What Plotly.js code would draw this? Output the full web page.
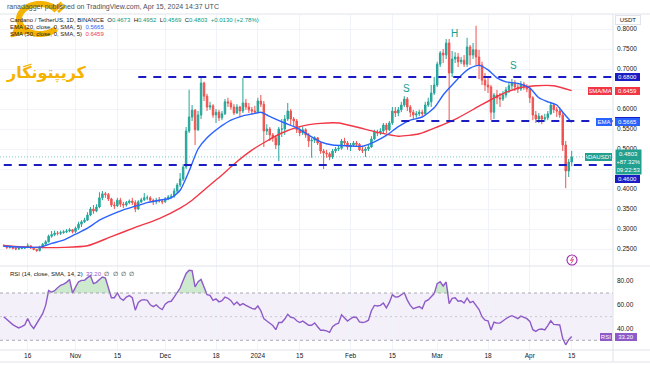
<!DOCTYPE html>
<html><head><meta charset="utf-8">
<script src="https://cdn.plot.ly/plotly-3.0.1.min.js"></script>
<style>html,body{margin:0;padding:0;background:#fff;}#chart{width:650px;height:365px;}</style>
</head><body><div id="chart"></div>
<script>
// ---- data (ADA/USDT daily) ----
const startDate = '2023-10-08';
const opens = [
0.259,.258,.254,.255,.252,.250,.251,.252,.254,.258,
.253,.249,.246,.254,.262,.268,.282,.286,.290,.289,
.291,.293,.295,.298,.294,.302,.312,.318,.322,.335,
.350,.345,.355,.378,.388,.386,.375,.360,.358,.372,
.362,.360,.366,.370,.366,.350,.368,.373,.378,.378,
.372,.368,.372,.370,.368,.375,.380,.382,.395,.410,
.425,.455,.545,.580,.597,.548,.585,.665,.632,.605,
.608,.585,.592,.578,.588,.618,.615,.605,.590,.605,
.595,.615,.605,.598,.595,.593,.620,.612,.545,.550,
.535,.528,.510,.550,.550,.575,.595,.575,.570,.548,
.540,.548,.535,.520,.522,.528,.515,.495,.490,.488,
.480,.495,.500,.502,.520,.515,.505,.510,.515,.512,
.498,.496,.500,.505,.525,.542,.540,.545,.560,.548,
.565,.595,.590,.598,.610,.625,.605,.592,.585,.588,
.592,.588,.610,.618,.640,.660,.712,.740,.735,.765,
.690,.725,.730,.718,.722,.712,.755,.735,.748,.730,
.710,.672,.660,.655,.592,.635,.628,.625,.635,.648,
.658,.665,.655,.650,.662,.655,.650,.628,.585,.575,
.582,.575,.578,.588,.610,.598,.595,.585,.510,.445,
.4673];
const highs = [
.262,.260,.258,.256,.254,.254,.254,.256,.264,.259,
.255,.250,.258,.265,.272,.286,.295,.296,.295,.296,
.297,.300,.302,.300,.306,.318,.322,.328,.342,.355,
.360,.362,.392,.395,.393,.390,.378,.368,.378,.378,
.368,.370,.374,.378,.372,.372,.378,.390,.384,.382,
.376,.378,.380,.375,.380,.385,.388,.402,.415,.440,
.462,.555,.648,.610,.600,.595,.678,.668,.638,.618,
.612,.600,.598,.595,.625,.628,.622,.612,.612,.608,
.678,.625,.615,.605,.608,.628,.635,.620,.562,.555,
.540,.532,.555,.575,.585,.615,.600,.580,.575,.555,
.556,.552,.540,.528,.532,.530,.518,.500,.498,.492,
.500,.505,.510,.525,.528,.520,.515,.520,.520,.515,
.505,.505,.510,.532,.548,.548,.552,.565,.565,.570,
.605,.605,.605,.618,.632,.630,.610,.598,.595,.598,
.598,.618,.628,.660,.680,.718,.745,.750,.775,.775,
.745,.742,.740,.730,.735,.778,.760,.765,.808,.748,
.718,.690,.680,.660,.640,.648,.640,.645,.655,.668,
.675,.672,.665,.670,.668,.662,.655,.632,.595,.590,
.585,.588,.595,.618,.615,.605,.605,.592,.520,.475,
.4952];
const lows = [
.255,.250,.251,.249,.247,.248,.250,.250,.252,.250,
.247,.243,.244,.252,.260,.266,.278,.282,.284,.285,
.288,.290,.292,.289,.290,.298,.305,.315,.320,.332,
.338,.342,.352,.372,.378,.370,.355,.350,.355,.355,
.352,.356,.362,.360,.342,.348,.365,.370,.372,.368,
.360,.362,.366,.362,.366,.372,.376,.378,.390,.405,
.420,.450,.540,.570,.510,.545,.575,.620,.595,.598,
.578,.565,.570,.572,.585,.605,.598,.585,.588,.580,
.590,.598,.590,.585,.588,.590,.605,.505,.535,.520,
.518,.500,.470,.530,.535,.570,.560,.555,.540,.532,
.535,.528,.505,.478,.515,.510,.488,.450,.478,.472,
.475,.490,.495,.498,.508,.498,.495,.505,.505,.495,
.490,.480,.495,.503,.522,.532,.535,.538,.540,.545,
.560,.580,.582,.592,.605,.595,.580,.575,.578,.582,
.582,.585,.605,.605,.635,.655,.705,.715,.725,.572,
.680,.715,.705,.712,.705,.705,.710,.725,.710,.675,
.660,.645,.640,.572,.575,.612,.605,.620,.628,.640,
.650,.645,.640,.645,.648,.642,.615,.572,.565,.565,
.562,.568,.572,.585,.590,.580,.578,.495,.402,.430,
.4569];
const closes = [
.258,.254,.255,.252,.250,.251,.252,.254,.258,.253,
.249,.246,.254,.262,.268,.282,.286,.290,.289,.291,
.293,.295,.298,.294,.302,.312,.318,.322,.335,.350,
.345,.355,.378,.388,.386,.375,.360,.358,.372,.362,
.360,.366,.370,.366,.350,.368,.373,.378,.378,.372,
.368,.372,.370,.368,.375,.380,.382,.395,.410,.425,
.455,.545,.580,.597,.548,.585,.665,.632,.605,.608,
.585,.592,.578,.588,.618,.615,.605,.590,.605,.595,
.615,.605,.598,.595,.593,.620,.612,.545,.550,.535,
.528,.510,.550,.550,.575,.595,.575,.570,.548,.540,
.548,.535,.520,.522,.528,.515,.495,.490,.488,.480,
.495,.500,.502,.520,.515,.505,.510,.515,.512,.498,
.496,.500,.505,.525,.542,.540,.545,.560,.548,.565,
.595,.590,.598,.610,.625,.605,.592,.585,.588,.592,
.588,.610,.618,.640,.660,.712,.740,.735,.765,.690,
.725,.730,.718,.722,.712,.755,.735,.748,.730,.710,
.672,.660,.655,.592,.635,.628,.625,.635,.648,.658,
.665,.655,.650,.662,.655,.650,.628,.585,.575,.582,
.575,.578,.588,.610,.598,.595,.585,.510,.445,.4673,
.4803];
const rsiValues = [
50,47.5,45,43.3,41.8,40.5,41.5,43,48.5,43,
40,44.5,48,52.5,59.5,72,70.8,72,74.5,76.5,
77.5,79,81.5,70,75,79.5,80.7,80.7,83,84.5,
77.9,79,81.5,83.5,82.7,74,66,66,70,65.5,
63.8,66.5,67.8,66,55.5,62,64,64.4,63.8,60,
58.5,60,57.5,56,60.5,62.5,63,66.5,70.5,74.2,
80.5,86.5,89.2,89,75.1,79.5,81.5,75,68.6,68,
63.8,65,62.5,63.5,66.5,65.5,63.5,60,62.3,59.6,
61,59.5,58,57,56.3,59,55,48.3,46.3,44.5,
42.5,39,45,45,48,52,49.5,49,46.5,45,
46.3,44.5,42.7,42.7,44.7,41.5,38.5,38.5,38,36.7,
41.5,43.5,44.5,51.5,49,46.3,48.2,49.7,49.3,45.5,
45,45.6,47,55,59.5,59,59.5,61.5,57.5,62,
68.6,66.5,66.8,68.5,70.2,64,59.5,56.8,57.5,58.5,
56.8,63,64.2,66.5,69.5,77.9,79.5,75.9,79.3,61,
65.5,66,63,63.5,61.5,65.8,61.8,63,59,56,
50,47,46.5,38.7,45.3,44.5,44.5,46,48.2,49.8,
50.8,49.5,48.3,50.4,49,48.3,46,39,37.5,39.2,
39.5,38.8,42.5,46.5,43.5,43.2,43,31.5,26.2,30.5,
33.2];
const emaDates = ['2023-10-08','2023-10-13','2023-10-18','2023-10-21','2023-10-24','2023-10-28','2023-11-01','2023-11-05','2023-11-09','2023-11-13','2023-11-17','2023-11-21','2023-11-25','2023-11-29','2023-12-03','2023-12-06','2023-12-09','2023-12-12','2023-12-15','2023-12-19','2023-12-23','2023-12-27','2023-12-31','2024-01-02','2024-01-04','2024-01-06','2024-01-10','2024-01-14','2024-01-18','2024-01-22','2024-01-26','2024-01-31','2024-02-05','2024-02-09','2024-02-13','2024-02-17','2024-02-21','2024-02-25','2024-02-29','2024-03-03','2024-03-06','2024-03-09','2024-03-12','2024-03-15','2024-03-18','2024-03-21','2024-03-24','2024-03-28','2024-04-01','2024-04-04','2024-04-07','2024-04-10','2024-04-12','2024-04-15'];
const emaValues = [0.257,0.255,0.254,0.256,0.264,0.272,0.287,0.302,0.322,0.336,0.348,0.357,0.366,0.372,0.378,0.397,0.445,0.500,0.528,0.553,0.572,0.583,0.589,0.592,0.585,0.578,0.565,0.553,0.535,0.518,0.510,0.508,0.507,0.518,0.534,0.556,0.572,0.580,0.603,0.635,0.660,0.684,0.702,0.709,0.698,0.678,0.668,0.664,0.652,0.628,0.618,0.610,0.592,0.5665];
const smaDates = ['2023-10-08','2023-10-18','2023-10-28','2023-11-05','2023-11-13','2023-11-21','2023-11-29','2023-12-06','2023-12-10','2023-12-16','2023-12-20','2023-12-24','2023-12-30','2024-01-04','2024-01-09','2024-01-15','2024-01-22','2024-01-28','2024-02-03','2024-02-10','2024-02-17','2024-02-24','2024-03-01','2024-03-08','2024-03-15','2024-03-22','2024-03-28','2024-04-03','2024-04-09','2024-04-15'];
const smaValues = [0.258,0.254,0.254,0.258,0.281,0.304,0.326,0.352,0.372,0.410,0.435,0.462,0.497,0.520,0.540,0.556,0.564,0.565,0.555,0.542,0.532,0.538,0.555,0.578,0.607,0.635,0.652,0.658,0.658,0.6459];
const tickDates = ['2023-10-16','2023-11-01','2023-11-15','2023-12-01','2023-12-18','2024-01-01','2024-01-15','2024-02-01','2024-02-15','2024-03-01','2024-03-18','2024-04-01','2024-04-15'];
const tickLabels = ['16','Nov','15','Dec','18','2024','15','Feb','15','Mar','18','Apr','15'];
const priceTicks = [0.25,0.30,0.35,0.40,0.45,0.50,0.55,0.60,0.65,0.70,0.75,0.80];
const priceTickLabels = ['0.2500','0.3000','0.3500','0.4000','','0.5000','0.5500','0.6000','','0.7000','0.7500','0.8000'];
const rsiTicks = [40,60,80];
const rsiTickLabels = ['40.00','60.00','80.00'];
const levels = [0.68,0.57,0.46];
const levelStarts = ['2023-11-22','2024-02-18','2023-10-08'];
const patternLabels = ['S','H','S'];
const patternDates = ['2024-02-19 14:00','2024-03-06 22:00','2024-03-26 10:00'];
const patternPrices = [0.6525,0.79,0.71];
const lastPrice = 0.4803, lastEma = 0.5665, lastSma = 0.6459, lastRsi = 33.20;

// ---- helpers ----
const dates = closes.map((_, i) => new Date(Date.UTC(2023, 9, 8 + i)).toISOString().slice(0, 10));
const PW = 613, PB = 350, PH = 336;
const px = x => x / PW, py = y => (PB - y) / PH;
function pathFrom(pts, close) {
  return pts.map((p, i) => (i ? 'L' : 'M') + px(p[0]).toFixed(5) + ',' + py(p[1]).toFixed(5)).join(' ') + (close ? ' Z' : '');
}
const xRange = ['2023-10-06 17:34', '2024-04-28 19:40'];
const UP = '#26a69a', DN = '#ef5350', NAVY = '#1c1cc4', EMAC = '#2962ff', SMAC = '#f23645', RSIC = '#8e5ac8', GOLD = '#f5b301';

const rsiTop = rsiValues.map(v => Math.max(v, 70));
const traces = [
  {type:'candlestick', x:dates, open:opens, high:highs, low:lows, close:closes, xaxis:'x', yaxis:'y',
   increasing:{line:{color:UP, width:1}, fillcolor:UP}, decreasing:{line:{color:DN, width:1}, fillcolor:DN},
   whiskerwidth:0, hoverinfo:'skip'},
  {type:'scatter', mode:'lines', x:smaDates, y:smaValues, line:{color:SMAC, width:1.4, shape:'spline', smoothing:0.6}, yaxis:'y', hoverinfo:'skip'},
  {type:'scatter', mode:'lines', x:emaDates, y:emaValues, line:{color:EMAC, width:1.4, shape:'spline', smoothing:0.6}, yaxis:'y', hoverinfo:'skip'},
  {type:'scatter', mode:'lines', x:dates, y:dates.map(() => 70), line:{width:0, color:'rgba(0,0,0,0)'}, yaxis:'y2', hoverinfo:'skip'},
  {type:'scatter', mode:'lines', x:dates, y:rsiTop, line:{width:0, color:'rgba(0,0,0,0)'}, fill:'tonexty', fillcolor:'rgba(76,175,80,0.28)', yaxis:'y2', hoverinfo:'skip'},
  {type:'scatter', mode:'lines', x:dates, y:rsiValues, line:{color:RSIC, width:1.4}, yaxis:'y2', hoverinfo:'skip'}
];

const shapes = [];
// RSI band and guides
shapes.push({type:'rect', xref:'paper', x0:0, x1:1, yref:'y2', y0:30, y1:70, fillcolor:'rgba(126,87,194,0.09)', line:{width:0}, layer:'below'});
shapes.push({type:'line', xref:'paper', x0:0, x1:1, yref:'y2', y0:70, y1:70, line:{color:'#9598a1', width:0.8, dash:'3px,3px'}});
shapes.push({type:'line', xref:'paper', x0:0, x1:1, yref:'y2', y0:30, y1:30, line:{color:'#9598a1', width:0.8, dash:'3px,3px'}});
shapes.push({type:'line', xref:'paper', x0:0, x1:1, yref:'y2', y0:50, y1:50, line:{color:'rgba(149,152,161,0.55)', width:0.8, dash:'2px,3px'}});
// current price dotted line
shapes.push({type:'line', xref:'paper', x0:0, x1:1, yref:'y', y0:lastPrice, y1:lastPrice, line:{color:'rgba(38,166,154,0.7)', width:0.8, dash:'1px,2px'}});
// support / resistance levels
levels.forEach((lv, i) => shapes.push({type:'line', xref:'x', x0:levelStarts[i], x1:xRange[1], yref:'y', y0:lv, y1:lv, line:{color:NAVY, width:2, dash:'8px,7px'}, layer:'above'}));
// frame lines
const FR = '#e0e3eb';
shapes.push({type:'line', xref:'paper', yref:'paper', x0:0, x1:650/PW, y0:1, y1:1, line:{color:FR, width:1}});
shapes.push({type:'line', xref:'paper', yref:'paper', x0:0, x1:650/PW, y0:0.25, y1:0.25, line:{color:FR, width:1}});
shapes.push({type:'line', xref:'paper', yref:'paper', x0:0, x1:650/PW, y0:0, y1:0, line:{color:FR, width:1}});
shapes.push({type:'line', xref:'paper', yref:'paper', x0:0, x1:650/PW, y0:py(362), y1:py(362), line:{color:FR, width:1}});
shapes.push({type:'line', xref:'paper', yref:'paper', x0:1, x1:1, y0:py(14), y1:py(362), line:{color:FR, width:1}});
// small purple icon
shapes.push({type:'circle', xref:'paper', yref:'paper', x0:px(567), x1:px(577), y0:py(265), y1:py(255), line:{color:'#9c27b0', width:1.1}, fillcolor:'#fff'});
shapes.push({type:'path', xref:'paper', yref:'paper', path:pathFrom([[573,256.5],[570.5,260.5],[573.5,259.5],[571,263.5]]), line:{color:'#e0457b', width:1}});
// logo: gold C ring, arrow and chain link
const arcPts = [];
for (let a = 40; a <= 320; a += 8) { const r = a * Math.PI / 180; arcPts.push([40 + 21 * Math.cos(r), 19 - 15 * Math.sin(r)]); }
shapes.push({type:'path', xref:'paper', yref:'paper', path:pathFrom(arcPts), line:{color:GOLD, width:6}, layer:'above'});
shapes.push({type:'path', xref:'paper', yref:'paper', path:pathFrom([[11,37],[27,33],[16,25]], true), fillcolor:GOLD, line:{color:GOLD, width:1}, layer:'above'});
shapes.push({type:'path', xref:'paper', yref:'paper', path:pathFrom([[53,11],[62,3]]), line:{color:GOLD, width:4}, layer:'above'});
shapes.push({type:'path', xref:'paper', yref:'paper', path:pathFrom([[58,12],[65,6]]), line:{color:GOLD, width:2.5}, layer:'above'});

const ann = [];
const F = 'Liberation Sans, Arial, sans-serif';
function txt(t, x, y, size, color, anchor) {
  ann.push({text:t, xref:'paper', yref:'paper', x:px(x), y:py(y), xanchor:anchor || 'left', yanchor:'middle', showarrow:false, font:{family:F, size:size, color:color}});
}
txt('ranadagger published on TradingView.com, Apr 15, 2024 14:37 UTC', 5, 7, 7, '#4a4e59');
const G = '#089981';
txt('Cardano / TetherUS, 1D, BINANCE  O<span style="color:' + G + '">0.4673</span>  H<span style="color:' + G + '">0.4952</span>  L<span style="color:' + G + '">0.4569</span>  C<span style="color:' + G + '">0.4803</span>  <span style="color:' + G + '">+0.0130 (+2.78%)</span>', 8, 20, 6, '#131722');
txt('EMA (20, close, 0, SMA, 5)  <span style="color:' + EMAC + '">' + lastEma.toFixed(4) + '</span>', 8, 27, 6, '#131722');
txt('SMA (50, close, 0, SMA, 5)  <span style="color:' + SMAC + '">' + lastSma.toFixed(4) + '</span>', 8, 34, 6, '#131722');
txt('RSI (14, close, SMA, 14, 2)  <span style="color:' + RSIC + '">' + lastRsi.toFixed(2) + '</span>  ∅  ∅  ∅  ∅', 8, 274, 6, '#131722');
// Persian watermark
ann.push({text:'کریپتونگار', xref:'paper', yref:'paper', x:px(4), y:py(73), xanchor:'left', yanchor:'middle', showarrow:false, font:{family:'DejaVu Sans', size:16, color:GOLD, weight:'bold'}});
// pattern labels
patternLabels.forEach((t, i) => ann.push({text:t, xref:'x', yref:'y', x:patternDates[i], y:patternPrices[i], showarrow:false, xanchor:'center', yanchor:'middle', font:{family:F, size:10, color:'#14a08b'}}));
// right-axis boxes
function box(t, yref, y, bg, color, anchor, xpos, width, border) {
  ann.push({text:t, xref:'paper', x:xpos, xanchor:anchor, yref:yref, y:y, yanchor:'middle', showarrow:false, bgcolor:bg, bordercolor:border || bg, borderwidth:border ? 1 : 0, borderpad:1, width:width, align:'center', font:{family:F, size:6, color:color}});
}
const AX = px(614.5), AXL = px(612);
box('USDT', 'paper', py(20), '#ffffff', '#131722', 'left', AX, 22, FR);
box(levels[0].toFixed(4), 'y', levels[0], NAVY, '#fff', 'left', AX, 23);
box('SMA/MA', 'y', lastSma, SMAC, '#fff', 'right', AXL, 22);
box(lastSma.toFixed(4), 'y', lastSma, SMAC, '#fff', 'left', AX, 23);
box(levels[1].toFixed(4), 'y', levels[1], NAVY, '#fff', 'left', AX, 23);
box('EMA', 'y', lastEma, EMAC, '#fff', 'right', AXL, 14);
box(lastEma.toFixed(4), 'y', lastEma, EMAC, '#fff', 'left', AX, 23);
box('ADAUSDT', 'y', lastPrice, '#22a08f', '#fff', 'right', AXL, 25);
ann.push({text:lastPrice.toFixed(4) + '<br>+87.32%<br>09:22:53', xref:'paper', x:AX, xanchor:'left', yref:'paper', y:py(149), yanchor:'top', showarrow:false, bgcolor:'#22a08f', borderpad:1, width:23, align:'center', font:{family:F, size:6, color:'#fff'}});
box(levels[2].toFixed(4), 'paper', py(179), NAVY, '#fff', 'left', AX, 23);
box('RSI', 'y2', lastRsi, RSIC, '#fff', 'right', AXL, 10);
box(lastRsi.toFixed(2), 'y2', lastRsi, RSIC, '#fff', 'left', AX, 20);

const layout = {
  width:650, height:365, margin:{l:0, r:37, t:14, b:15, pad:0},
  paper_bgcolor:'#ffffff', plot_bgcolor:'#ffffff',
  font:{family:F, size:6.5, color:'#131722'},
  showlegend:false, hovermode:false, dragmode:false,
  xaxis:{type:'date', range:xRange, anchor:'y2', tickmode:'array', tickvals:tickDates, ticktext:tickLabels,
    showgrid:true, gridcolor:'#f0f3fa', gridwidth:1, ticks:'', showline:false, zeroline:false,
    rangeslider:{visible:false}, tickfont:{family:F, size:6.5, color:'#131722'}, automargin:false, fixedrange:true},
  yaxis:{domain:[0.25, 1], range:[0.2075, 0.8375], side:'right', anchor:'x', tickmode:'array', tickvals:priceTicks, ticktext:priceTickLabels,
    showgrid:true, gridcolor:'#f0f3fa', zeroline:false, ticks:'', ticklabelstandoff:3, automargin:false, fixedrange:true,
    tickfont:{family:F, size:6.5, color:'#131722'}},
  yaxis2:{domain:[0, 0.25], range:[21.8, 92.83], side:'right', anchor:'x', tickmode:'array', tickvals:rsiTicks, ticktext:rsiTickLabels,
    showgrid:false, zeroline:false, ticks:'', ticklabelstandoff:3, automargin:false, fixedrange:true,
    tickfont:{family:F, size:6.5, color:'#131722'}},
  shapes:shapes, annotations:ann
};
Plotly.newPlot('chart', traces, layout, {displayModeBar:false, staticPlot:true});
</script>
</body></html>
